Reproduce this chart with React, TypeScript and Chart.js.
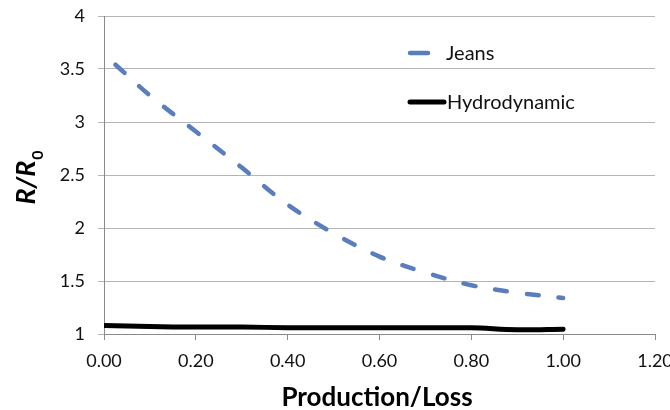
import React, { useEffect, useRef } from "react";
import { Chart, registerables } from "chart.js";

Chart.register(...registerables);

const seriesNames = ["Jeans", "Hydrodynamic"];
const jeansX = [0.025, 0.1, 0.2, 0.3, 0.4, 0.5, 0.6, 0.7, 0.8, 0.9, 1.0];
const jeansY = [3.54, 3.25, 2.91, 2.57, 2.22, 1.95, 1.73, 1.58, 1.46, 1.39, 1.34];
const hydroX = [0, 0.1, 0.2, 0.3, 0.4, 0.5, 0.6, 0.7, 0.8, 0.9, 1.0];
const hydroY = [1.08, 1.07, 1.065, 1.065, 1.06, 1.06, 1.06, 1.06, 1.058, 1.04, 1.045];
const xTitle = "Production/Loss";
const yTitleMain = "R/R";
const yTitleSub = "0";

const FONT = "Lato, 'Open Sans', sans-serif";

const legendPlugin = {
  id: "insideLegend",
  afterDraw(chart: any) {
    const ctx = chart.ctx;
    const ca = chart.chartArea;
    const items = [
      { ds: chart.data.datasets[0], y: ca.top + 37, len: 18 },
      { ds: chart.data.datasets[1], y: ca.top + 86, len: 34 },
    ];
    ctx.save();
    items.forEach((it, i) => {
      const x0 = ca.left + 306;
      ctx.beginPath();
      ctx.strokeStyle = it.ds.borderColor;
      ctx.lineWidth = it.ds.borderWidth;
      ctx.lineCap = "round";
      ctx.setLineDash([]);
      ctx.moveTo(x0, it.y);
      ctx.lineTo(x0 + it.len, it.y);
      ctx.stroke();
      ctx.fillStyle = "#111";
      ctx.font = `20px ${FONT}`;
      ctx.textBaseline = "middle";
      ctx.textAlign = "left";
      ctx.fillText(seriesNames[i], i === 0 ? x0 + 36 : x0 + 37, it.y + 1);
    });
    ctx.restore();
  },
};

const titlesPlugin = {
  id: "axisTitles",
  afterDraw(chart: any) {
    const ctx = chart.ctx;
    const ca = chart.chartArea;
    ctx.save();
    ctx.fillStyle = "#000";
    ctx.font = `bold 26px ${FONT}`;
    ctx.textAlign = "center";
    ctx.textBaseline = "alphabetic";
    ctx.fillText(xTitle, 377, 406);

    ctx.translate(27, 178);
    ctx.rotate(-Math.PI / 2);
    ctx.font = `italic bold 27px ${FONT}`;
    const w1 = ctx.measureText(yTitleMain).width;
    ctx.font = `bold 16px ${FONT}`;
    const w2 = ctx.measureText(yTitleSub).width;
    const start = -(w1 + w2) / 2;
    ctx.textAlign = "left";
    ctx.font = `italic bold 27px ${FONT}`;
    ctx.fillText(yTitleMain, start, 8);
    ctx.font = `bold 16px ${FONT}`;
    ctx.fillText(yTitleSub, start + w1 + 1, 16);
    ctx.restore();
  },
};

export default function App() {
  const ref = useRef<HTMLCanvasElement>(null);
  useEffect(() => {
    if (!ref.current) return;
    const chart = new Chart(ref.current, {
      type: "line",
      data: {
        datasets: [
          {
            label: seriesNames[0],
            data: jeansX.map((x, i) => ({ x, y: jeansY[i] })),
            borderColor: "#5a7dbd",
            borderWidth: 4.5,
            borderDash: [12, 20],
            borderCapStyle: "round",
            pointRadius: 0,
            tension: 0.35,
            fill: false,
          },
          {
            label: seriesNames[1],
            data: hydroX.map((x, i) => ({ x, y: hydroY[i] })),
            borderColor: "#000000",
            borderWidth: 5,
            borderCapStyle: "round",
            pointRadius: 0,
            tension: 0.35,
            fill: false,
          },
        ],
      },
      options: {
        responsive: false,
        animation: false,
        devicePixelRatio: 1,
        layout: { padding: { left: 0, top: 16, right: 15, bottom: 0 } },
        plugins: {
          legend: { display: false },
          tooltip: { enabled: false },
        },
        scales: {
          x: {
            type: "linear",
            min: 0,
            max: 1.2,
            ticks: {
              stepSize: 0.2,
              padding: 10,
              color: "#111",
              font: { family: FONT, size: 18 },
              callback: (v: any) => Number(v).toFixed(2),
            },
            grid: {
              drawOnChartArea: false,
              drawTicks: true,
              tickLength: 6,
              color: "#8a8a8a",
            },
            border: { color: "#8a8a8a", width: 1 },
            afterFit: (s: any) => {
              s.height = 76;
              s.paddingLeft = 0;
              s.paddingRight = 0;
            },
          },
          y: {
            type: "linear",
            min: 1,
            max: 4,
            ticks: {
              stepSize: 0.5,
              padding: 13,
              color: "#111",
              font: { family: FONT, size: 18 },
              callback: (v: any) => String(v),
            },
            grid: {
              drawOnChartArea: true,
              drawTicks: true,
              tickLength: 6,
              color: "#b4b4b4",
            },
            border: { color: "#8a8a8a", width: 1 },
            afterFit: (s: any) => {
              s.width = 104;
              s.paddingTop = 0;
              s.paddingBottom = 0;
            },
          },
        },
      },
      plugins: [legendPlugin, titlesPlugin],
    } as any);
    return () => chart.destroy();
  }, []);
  return (
    <div style={{ position: "fixed", left: 0, top: 0, width: 670, height: 410, background: "#fff" }}>
      <canvas ref={ref} width={670} height={410} />
    </div>
  );
}
